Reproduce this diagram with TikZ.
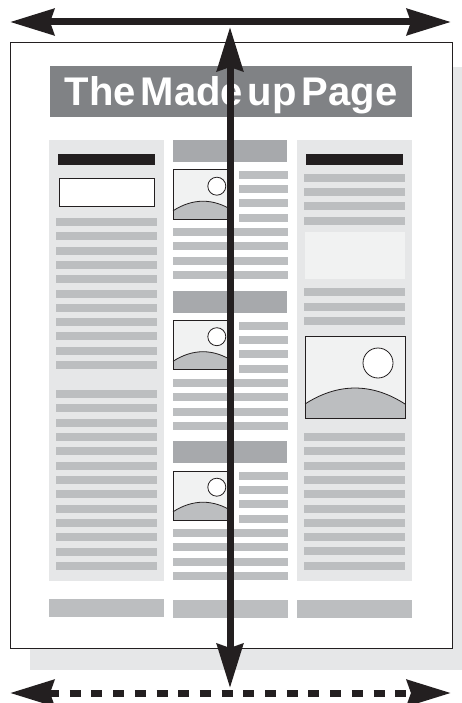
\documentclass[tikz,border=0pt]{standalone}
\usepackage{fontspec}
\setsansfont{Liberation Sans}
\usepackage{tikz}
\usetikzlibrary{arrows.meta}

\definecolor{inkgray}{HTML}{231F20}
\definecolor{titlegray}{HTML}{808285}
\definecolor{headgray}{HTML}{A7A9AC}
\definecolor{linegray}{HTML}{BCBEC0}
\definecolor{panelgray}{HTML}{E6E7E8}
\definecolor{photogray}{HTML}{F1F2F2}

% placeholder picture: x, y, scale
\newcommand{\photo}[3]{%
  \begin{scope}[shift={(#1,#2)}, scale=#3]
    \fill[photogray] (0,0) rectangle (100,82);
    \fill[linegray] (0,68) .. controls (33,46.7) and (67,46.7) .. (100,68)
      -- (100,82) -- (0,82) -- cycle;
    \draw[inkgray, line width=0.8pt] (0,68) .. controls (33,46.7) and (67,46.7) .. (100,68);
    \draw[inkgray, line width=0.8pt, fill=white] (73,27) circle (15);
    \draw[inkgray, line width=1pt] (0,0) rectangle (100,82);
  \end{scope}}

\begin{document}
\begin{tikzpicture}[
  x=1pt, y=-1pt,
  panel/.style={fill=panelgray},
  textline/.style={fill=linegray},
  headbar/.style={fill=headgray},
  inkbar/.style={fill=inkgray},
  tip/.style={Stealth[length=44pt, width=26pt, inset=4pt]},
  arrow/.style={{Stealth[length=44pt, width=26pt, inset=4pt]}-{Stealth[length=44pt, width=26pt, inset=4pt]},
    line width=7pt, draw=inkgray}
]
\useasboundingbox (0,0) rectangle (461,703);

% page and its shadow
\fill[panelgray] (30,67) rectangle (475,670);
\draw[inkgray, line width=1pt, fill=white] (10,43) rectangle (452,648);

% masthead
\fill[titlegray] (50,66) rectangle (412,117);
\node (title) [anchor=base, text=white, inner sep=0pt,
  font=\sffamily\bfseries\fontsize{40}{40}\selectfont] at (231,106)
  {The\hspace{5pt}Made\hspace{5pt}up\hspace{5pt}Page};

% left column
\fill[panel] (49,140) rectangle (164,581);
\fill[inkbar] (58,154) rectangle (155,165);
\draw[inkgray, line width=0.8pt, fill=white] (59,178) rectangle (154,206);
\foreach \i in {0,...,10}
  \fill[textline] (56,218+14.3*\i) rectangle ++(101,8);
\foreach \i in {0,...,12}
  \fill[textline] (56,390+14.33*\i) rectangle ++(101,8);

% middle column
\foreach \t in {140,290.5,441} {
  \fill[headbar] (173,\t) rectangle (287,\t+22);
  \photo{173}{\t+30}{0.6}
  \foreach \d in {31,45,59,74}
    \fill[textline] (239,\t+\d) rectangle (288,\t+\d+8);
  \foreach \d in {88,102,117,131}
    \fill[textline] (173,\t+\d) rectangle (288,\t+\d+8);
}

% right column
\fill[panel] (297,140) rectangle (412,581);
\fill[inkbar] (306,154) rectangle (403,165);
\foreach \y in {174,188,202,217}
  \fill[textline] (304,\y) rectangle ++(101,8);
\fill[photogray] (305,232) rectangle (405,279);
\foreach \y in {288,303,317}
  \fill[textline] (304,\y) rectangle ++(101,8);
\photo{305}{336}{1}
\foreach \i in {0,...,9}
  \fill[textline] (304,433+14.3*\i) rectangle ++(101,8);

% footer bars
\fill[textline] (49,599) rectangle (164,617);
\fill[textline] (173,600) rectangle (288,618);
\fill[textline] (297,600) rectangle (412,618);

% arrows
\coordinate (topL) at (10,22);
\coordinate (topR) at (451,22);
\coordinate (botL) at (10,693);
\coordinate (botR) at (451,693);
\coordinate (vTop) at (230,27);
\coordinate (vBot) at (230,688);

\draw[arrow] (topL) -- (topR);
\draw[arrow, dash pattern=on 11pt off 10.7pt] (botL) -- (botR);
\draw[arrow] (vBot) -- (vTop);

\end{tikzpicture}
\end{document}
